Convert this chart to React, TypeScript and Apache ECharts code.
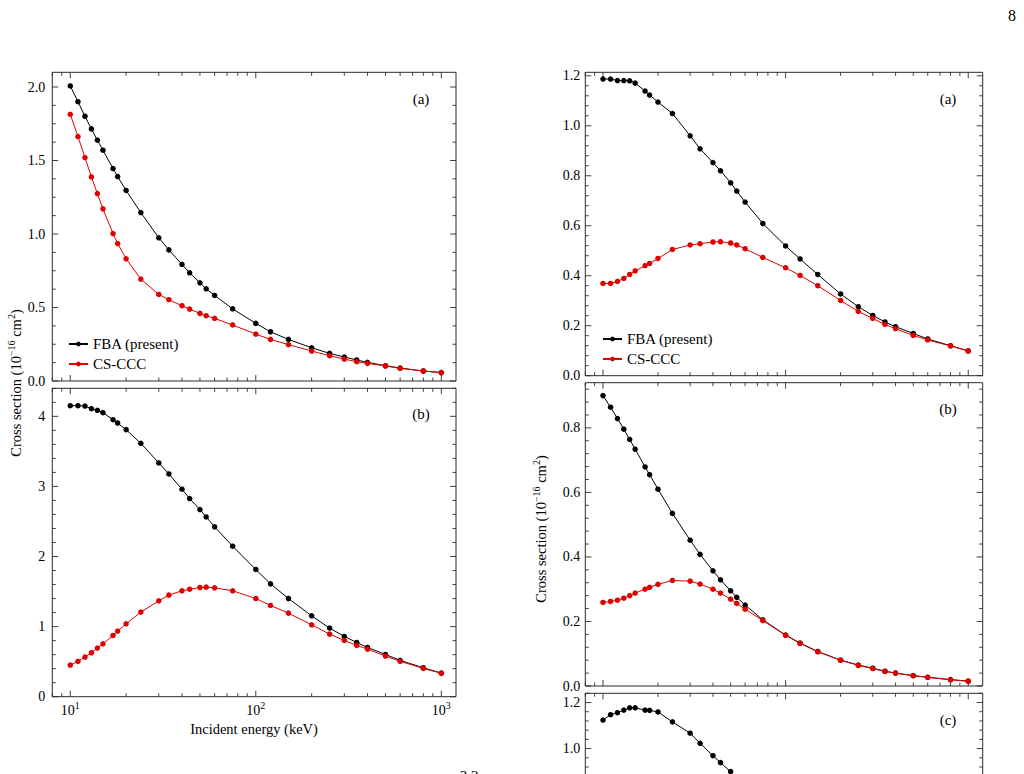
import React, { useEffect, useRef } from 'react';
import * as echarts from 'echarts';

// Incident energies (keV) shared by every panel
const energies = [10, 11, 12, 13, 14, 15, 17, 18, 20, 24, 30, 34, 40, 44, 50, 54, 60, 75, 100, 120, 150, 200, 250, 300, 350, 400, 500, 600, 800, 1000];

// Left figure, panel (a)
const leftA_FBA = [2.007, 1.9, 1.801, 1.715, 1.638, 1.57, 1.445, 1.391, 1.296, 1.146, 0.974, 0.892, 0.793, 0.736, 0.668, 0.627, 0.582, 0.491, 0.392, 0.335, 0.283, 0.226, 0.188, 0.163, 0.143, 0.127, 0.104, 0.088, 0.068, 0.057];
const leftA_CCC = [1.814, 1.663, 1.52, 1.388, 1.275, 1.171, 1.003, 0.935, 0.831, 0.693, 0.589, 0.553, 0.512, 0.489, 0.46, 0.444, 0.426, 0.381, 0.319, 0.283, 0.247, 0.204, 0.172, 0.149, 0.131, 0.12, 0.102, 0.086, 0.068, 0.057];

// Left figure, panel (b)
const leftB_FBA = [4.152, 4.152, 4.147, 4.109, 4.086, 4.052, 3.952, 3.905, 3.81, 3.615, 3.335, 3.178, 2.96, 2.827, 2.67, 2.565, 2.423, 2.147, 1.815, 1.61, 1.401, 1.154, 0.979, 0.86, 0.774, 0.703, 0.603, 0.518, 0.413, 0.337];
const leftB_CCC = [0.451, 0.504, 0.565, 0.627, 0.694, 0.755, 0.874, 0.936, 1.04, 1.207, 1.368, 1.449, 1.511, 1.534, 1.558, 1.563, 1.553, 1.511, 1.401, 1.302, 1.192, 1.026, 0.893, 0.803, 0.732, 0.679, 0.58, 0.504, 0.404, 0.333];

// Right figure, panel (a)
const rightA_FBA = [1.187, 1.187, 1.181, 1.181, 1.18, 1.171, 1.139, 1.123, 1.095, 1.049, 0.96, 0.908, 0.853, 0.82, 0.772, 0.739, 0.695, 0.609, 0.519, 0.467, 0.405, 0.327, 0.276, 0.241, 0.215, 0.196, 0.169, 0.147, 0.12, 0.099];
const rightA_CCC = [0.369, 0.369, 0.377, 0.389, 0.405, 0.419, 0.44, 0.449, 0.469, 0.505, 0.523, 0.528, 0.535, 0.536, 0.531, 0.523, 0.508, 0.473, 0.432, 0.401, 0.36, 0.301, 0.257, 0.229, 0.205, 0.188, 0.161, 0.143, 0.119, 0.099];

// Right figure, panel (b)
const rightB_FBA = [0.9, 0.864, 0.829, 0.796, 0.764, 0.734, 0.679, 0.655, 0.61, 0.535, 0.452, 0.408, 0.357, 0.329, 0.295, 0.275, 0.251, 0.205, 0.158, 0.133, 0.107, 0.08, 0.065, 0.055, 0.046, 0.04, 0.032, 0.027, 0.02, 0.015];
const rightB_CCC = [0.259, 0.262, 0.266, 0.272, 0.28, 0.288, 0.3, 0.306, 0.315, 0.327, 0.325, 0.316, 0.3, 0.288, 0.269, 0.256, 0.238, 0.203, 0.157, 0.132, 0.106, 0.08, 0.064, 0.054, 0.045, 0.04, 0.032, 0.027, 0.019, 0.015];

// Right figure, panel (c): the low-energy part of the FBA curve
const rightC_FBA = [1.124, 1.147, 1.156, 1.167, 1.177, 1.177, 1.167, 1.166, 1.159, 1.116, 1.067, 1.023, 0.969, 0.939, 0.9];

const FBA = 'FBA (present)';
const CCC = 'CS-CCC';

const FONT = 'Liberation Serif, Times New Roman, Times, serif';
const INK = '#000000';
const RED = '#e00000';
const FRAME = '#2a2a2a';

// Plot frames and y scales for the five panels
const panels = [
  { rect: { left: 52.3, top: 72.3, width: 403.7, height: 308.7 }, yMax: 2.1, major: 0.5, minor: 0.125, digits: 1, labelMargin: 7, xLabels: false, fba: leftA_FBA, ccc: leftA_CCC },
  { rect: { left: 52.3, top: 388.3, width: 403.7, height: 308.4 }, yMax: 4.4, major: 1, minor: 0.2, digits: 0, labelMargin: 7, xLabels: true, fba: leftB_FBA, ccc: leftB_CCC },
  { rect: { left: 585.3, top: 72.3, width: 397.4, height: 303.4 }, yMax: 1.214, major: 0.2, minor: 0.04, digits: 1, labelMargin: 5, xLabels: false, fba: rightA_FBA, ccc: rightA_CCC },
  { rect: { left: 585.3, top: 382.7, width: 397.4, height: 303.3 }, yMax: 0.94, major: 0.2, minor: 0.04, digits: 1, labelMargin: 5, xLabels: false, fba: rightB_FBA, ccc: rightB_CCC },
  { rect: { left: 585.3, top: 693.3, width: 397.4, height: 303.4 }, yMax: 1.24, major: 0.2, minor: 0.04, digits: 1, labelMargin: 5, xLabels: true, fba: rightC_FBA, ccc: null as number[] | null },
];

const X_MIN = 8;
const X_MAX = 1200;

// Tick positions on the logarithmic energy axis: decades plus 2..9 sub-ticks
const xTicks: number[][] = [];
for (let p = 0; p <= 3; p++) {
  for (let m = 1; m <= 9; m++) {
    const v = m * Math.pow(10, p);
    if (v >= X_MIN && v <= X_MAX) xTicks.push([v, 0, m === 1 ? 1 : 0]);
  }
}

function yTicksFor(yMax: number, major: number, minor: number): number[][] {
  const out: number[][] = [];
  const n = Math.floor(yMax / minor + 1e-9);
  const per = Math.round(major / minor);
  for (let i = 0; i <= n; i++) out.push([10, +(i * minor).toFixed(6), i % per === 0 ? 1 : 0]);
  return out;
}

const pairs = (ys: number[]) => ys.map((y, i) => [energies[i], y]);

function buildOption() {
  const grid: any[] = [];
  const xAxis: any[] = [];
  const yAxis: any[] = [];
  const series: any[] = [];

  panels.forEach((p, g) => {
    grid.push({ ...p.rect, show: true, borderColor: FRAME, borderWidth: 1, backgroundColor: 'transparent', containLabel: false });
    xAxis.push({
      type: 'log', logBase: 10, gridIndex: g, min: X_MIN, max: X_MAX,
      axisLine: { show: false }, axisTick: { show: false }, splitLine: { show: false },
      axisLabel: {
        show: p.xLabels, margin: 4,
        formatter: (v: number) => {
          const e = Math.log10(v);
          if (Math.abs(e - Math.round(e)) > 1e-6) return '';
          return '{b|10}{s|' + String(Math.round(e)) + '}';
        },
        rich: {
          b: { fontFamily: FONT, fontSize: 14, color: INK, lineHeight: 20 },
          s: { fontFamily: FONT, fontSize: 10, color: INK, lineHeight: 11, verticalAlign: 'top' },
        },
      },
    });
    yAxis.push({
      type: 'value', gridIndex: g, min: 0, max: p.yMax, interval: p.major,
      axisLine: { show: false }, axisTick: { show: false }, splitLine: { show: false },
      axisLabel: {
        margin: p.labelMargin,
        formatter: (v: number) => {
          const r = v / p.major;
          if (Math.abs(r - Math.round(r)) > 1e-6) return '';
          return '{v|' + v.toFixed(p.digits) + '}';
        },
        rich: { v: { fontFamily: FONT, fontSize: 14, color: INK } },
      },
    });

    // Inward tick marks on all four sides of the frame
    series.push({
      type: 'custom', xAxisIndex: g, yAxisIndex: g, silent: true, clip: false, z: 1,
      data: xTicks,
      renderItem: (params: any, api: any) => {
        const cs = params.coordSys;
        const px = api.coord([api.value(0), 0])[0];
        const len = api.value(2) === 1 ? 6 : 3.5;
        const style = { stroke: FRAME, lineWidth: 0.9 };
        return {
          type: 'group',
          children: [
            { type: 'line', shape: { x1: px, y1: cs.y + cs.height, x2: px, y2: cs.y + cs.height - len }, style },
            { type: 'line', shape: { x1: px, y1: cs.y, x2: px, y2: cs.y + len }, style },
          ],
        };
      },
    });
    series.push({
      type: 'custom', xAxisIndex: g, yAxisIndex: g, silent: true, clip: false, z: 1,
      data: yTicksFor(p.yMax, p.major, p.minor),
      renderItem: (params: any, api: any) => {
        const cs = params.coordSys;
        const py = api.coord([10, api.value(1)])[1];
        const len = api.value(2) === 1 ? 6 : 3.5;
        const style = { stroke: FRAME, lineWidth: 0.9 };
        return {
          type: 'group',
          children: [
            { type: 'line', shape: { x1: cs.x, y1: py, x2: cs.x + len, y2: py }, style },
            { type: 'line', shape: { x1: cs.x + cs.width, y1: py, x2: cs.x + cs.width - len, y2: py }, style },
          ],
        };
      },
    });

    series.push({
      type: 'line', name: FBA, xAxisIndex: g, yAxisIndex: g, data: pairs(p.fba),
      symbol: 'circle', symbolSize: 5.5, showSymbol: true, z: 3,
      lineStyle: { color: INK, width: 1 }, itemStyle: { color: INK },
    });
    if (p.ccc) {
      series.push({
        type: 'line', name: CCC, xAxisIndex: g, yAxisIndex: g, data: pairs(p.ccc),
        symbol: 'circle', symbolSize: 5.5, showSymbol: true, z: 4,
        lineStyle: { color: RED, width: 1 }, itemStyle: { color: RED },
      });
    }
  });

  const legendBase = {
    orient: 'vertical', itemWidth: 19, itemHeight: 6, itemGap: 4, padding: 0,
    selectedMode: false, data: [FBA, CCC],
    textStyle: { fontFamily: FONT, fontSize: 15, color: INK, lineHeight: 16 },
  };

  const tagText = (x: number, y: number, text: string) => ({
    type: 'text', x, y, silent: true,
    style: { text, fill: INK, font: `15px ${FONT}`, textAlign: 'center', textVerticalAlign: 'middle' },
  });

  const yTitleRich = {
    t: { fontFamily: FONT, fontSize: 14.5, fill: INK, lineHeight: 20 },
    s: { fontFamily: FONT, fontSize: 10, fill: INK, lineHeight: 11, verticalAlign: 'top' },
  };
  const yTitleText = '{t|Cross section (10}{s|−16}{t| cm}{s|2}{t|)}';

  return {
    animation: false,
    grid, xAxis, yAxis, series,
    legend: [
      { ...legendBase, left: 68, top: 336 },
      { ...legendBase, left: 602, top: 331 },
    ],
    graphic: [
      tagText(421, 99, '(a)'),
      tagText(421, 414, '(b)'),
      tagText(948, 99, '(a)'),
      tagText(948, 409, '(b)'),
      tagText(948, 720, '(c)'),
      {
        type: 'text', x: 254, y: 729, silent: true,
        style: { text: 'Incident energy (keV)', fill: INK, font: `14.5px ${FONT}`, textAlign: 'center', textVerticalAlign: 'middle' },
      },
      {
        type: 'text', x: 16, y: 383, rotation: Math.PI / 2, silent: true,
        style: { text: yTitleText, rich: yTitleRich, textAlign: 'center', textVerticalAlign: 'middle' },
      },
      {
        type: 'text', x: 541, y: 529, rotation: Math.PI / 2, silent: true,
        style: { text: yTitleText, rich: yTitleRich, textAlign: 'center', textVerticalAlign: 'middle' },
      },
      {
        type: 'text', x: 1012, y: 15, silent: true,
        style: { text: '8', fill: INK, font: `16px ${FONT}`, textAlign: 'center', textVerticalAlign: 'middle' },
      },
      {
        type: 'text', x: 469, y: 768, silent: true,
        style: { text: '3.2', fill: INK, font: `15px ${FONT}`, textAlign: 'center', textVerticalAlign: 'top' },
      },
    ],
  };
}

export default function App() {
  const ref = useRef<HTMLDivElement>(null);
  useEffect(() => {
    if (!ref.current) return;
    const chart = echarts.init(ref.current, undefined, { renderer: 'svg' });
    chart.setOption(buildOption() as any);
    return () => chart.dispose();
  }, []);
  // The page continues below the visible window; the lowest panel is cut by it.
  return (
    <div style={{ position: 'fixed', left: 0, top: 0, width: 1024, height: 774, overflow: 'hidden', background: '#ffffff' }}>
      <div ref={ref} style={{ width: 1024, height: 1000 }} />
    </div>
  );
}
